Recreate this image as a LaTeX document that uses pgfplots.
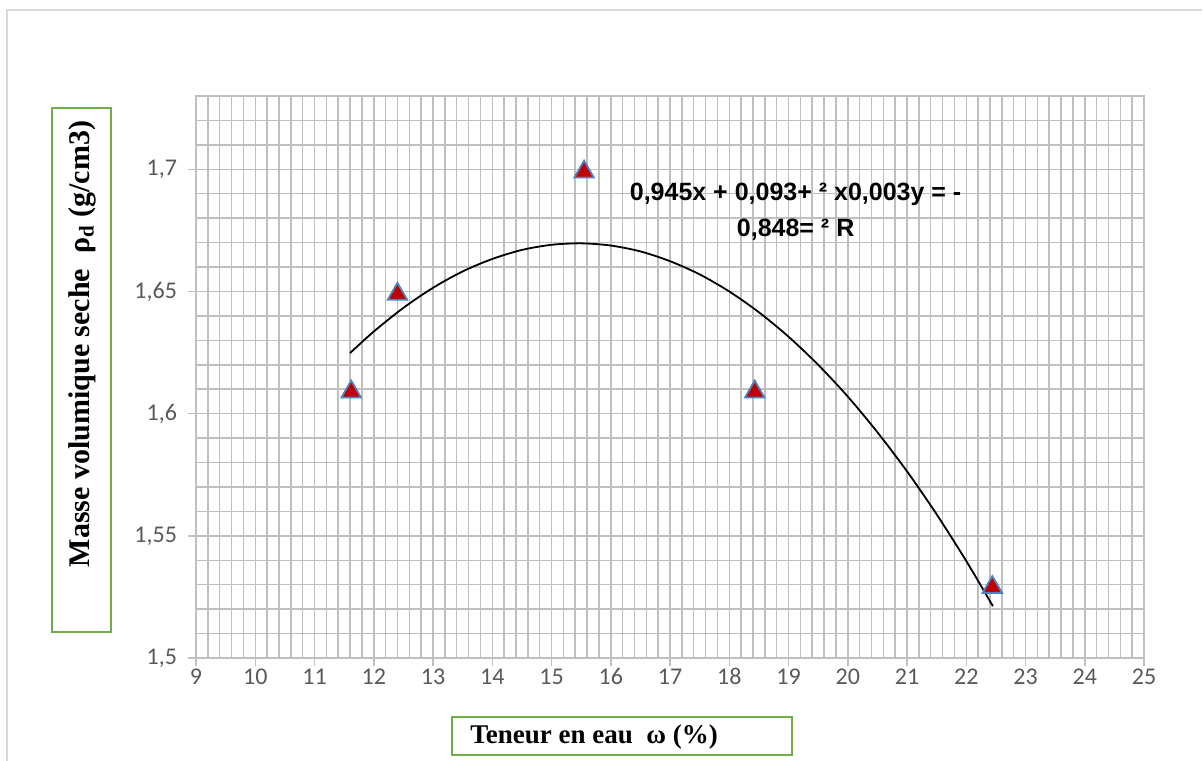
\documentclass[border=0pt]{standalone}
\usepackage{fontspec}
\setmainfont{Liberation Serif}
\newfontfamily\carlito{Carlito}
\newfontfamily\arialfont{Liberation Sans}
\usepackage{pgfplots}
\pgfplotsset{compat=1.18}

\definecolor{gridgray}{HTML}{BFBFBF}
\definecolor{framegray}{HTML}{D9D9D9}
\definecolor{ticktext}{HTML}{595959}
\definecolor{boxgreen}{HTML}{70AD47}
\definecolor{markred}{HTML}{C00000}
\definecolor{markblue}{HTML}{4F81BD}

\begin{document}
\begin{tikzpicture}
% page extent
\useasboundingbox (-98pt,-51pt) rectangle (503.5pt,329pt);
% outer frame
\draw[framegray, line width=1pt] (-94.5pt,-60pt) -- (-94.5pt,324pt) -- (503pt,324pt);

\begin{axis}[
  at={(0pt,0pt)}, anchor=south west,
  scale only axis,
  width=474pt, height=281pt,
  xmin=9, xmax=25, ymin=1.5, ymax=1.73,
  xtick={9,10,...,25},
  ytick={1.5,1.55,1.6,1.65,1.7},
  minor x tick num=4,
  minor ytick={1.51,1.52,1.53,1.54,1.56,1.57,1.58,1.59,1.61,1.62,1.63,1.64,1.66,1.67,1.68,1.69,1.71,1.72},
  grid=both,
  major grid style={gridgray, line width=0.75pt},
  minor grid style={gridgray, line width=0.75pt},
  axis line style={gridgray, line width=0.75pt},
  tick style={gridgray, line width=0.75pt},
  tick pos=left, tick align=outside,
  major tick length=4pt, minor tick length=0pt,
  /pgf/number format/assume math mode=true,
  /pgf/number format/use comma,
  ticklabel style={font=\carlito\fontsize{12}{14}\selectfont, text=ticktext},
  xticklabel style={text height=8pt, text depth=0pt, yshift=2.5pt},
  yticklabel style={xshift=-2pt},
  clip=false,
]
% measured points (triangles centred on their bounding box)
\addplot[only marks, mark=triangle*, mark size=5.6pt,
  mark options={fill=markred, draw=markblue, line width=0.9pt, yshift=-1.3pt}]
  coordinates {(11.62,1.61) (12.40,1.65) (15.55,1.70) (18.43,1.61) (22.44,1.53)};
% polynomial trend line
\addplot[black, line width=0.9pt, smooth] coordinates {
  (11.6,1.6248) (12,1.6336) (12.5,1.6433) (13,1.6515) (13.5,1.6582)
  (14,1.6633) (14.5,1.6670) (15,1.6691) (15.5,1.6697) (16,1.6688)
  (16.5,1.6664) (17,1.6624) (17.5,1.6570) (18,1.6500) (18.5,1.6415)
  (19,1.6315) (19.5,1.6200) (20,1.6070) (20.5,1.5924) (21,1.5764)
  (21.5,1.5588) (22,1.5397) (22.45,1.5212)};
% trend line equation
\node[align=center, font=\arialfont\bfseries\fontsize{12.5}{18}\selectfont]
  at (axis cs:19.12,1.6828) {0,945x + 0,093+ ² x0,003y = -\\0,848= ² R};
\end{axis}

% axis titles in framed boxes
\draw[boxgreen, line width=1pt] (-72pt,13pt) rectangle (-42.5pt,275pt);
\node[rotate=90, font=\bfseries\fontsize{15}{17}\selectfont]
  at (-57pt,157pt) {Masse volumique seche\ \ ρ\textsubscript{d} (g/cm3)};
\draw[boxgreen, line width=1pt] (128pt,-29.5pt) rectangle (298pt,-48.5pt);
\node[font=\bfseries\fontsize{13.5}{15}\selectfont]
  at (199pt,-39.5pt) {Teneur en eau\ \ ω (\%)};
\end{tikzpicture}
\end{document}
